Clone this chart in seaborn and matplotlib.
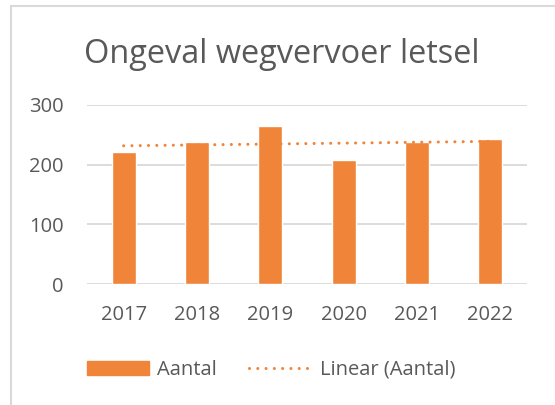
import numpy as np
import pandas as pd
import matplotlib
matplotlib.use("Agg")
import matplotlib.pyplot as plt
import seaborn as sns
from matplotlib.lines import Line2D

# chart data
years = ["2017", "2018", "2019", "2020", "2021", "2022"]
aantal = [221, 238, 265, 207, 238, 243]
y_ticks = [0, 100, 200, 300]

title = "Ongeval wegvervoer letsel"
orange = "#F08439"
grey_text = "#595959"
grid_col = "#D9D9D9"

sns.set_style("white")
plt.rcParams["font.family"] = ["Open Sans", "DejaVu Sans"]

df = pd.DataFrame({"Jaar": years, "Aantal": aantal})

fig = plt.figure(figsize=(5.55, 4.05), dpi=100)
ax = fig.add_axes([87 / 555, 1 - 284 / 405, 440 / 555, 179 / 405])

sns.barplot(data=df, x="Jaar", y="Aantal", color=orange, saturation=1,
            width=0.33, ax=ax, zorder=3)

# linear trendline over category positions
xs = np.arange(len(years))
slope, icpt = np.polyfit(xs, aantal, 1)
dots = (0, (0.01, 2.7))
ax.plot(xs, slope * xs + icpt, color=orange, lw=2.2, linestyle=dots,
        dash_capstyle="round", zorder=4)

ax.set_ylim(0, 300)
ax.set_xlim(-0.5, len(years) - 0.5)
ax.set_yticks(y_ticks)
ax.yaxis.grid(True, color=grid_col, lw=1.3)
ax.set_axisbelow(True)
for s in ax.spines.values():
    s.set_visible(False)
ax.set_xlabel("")
ax.set_ylabel("")
ax.tick_params(axis="both", length=0, labelsize=14.5, labelcolor=grey_text)
ax.tick_params(axis="y", pad=17)
ax.tick_params(axis="x", pad=15)

fig.text(282 / 555, 1 - 63 / 405, title, ha="center", va="baseline",
         fontsize=23.4, color=grey_text)

# legend
handles = [
    plt.Rectangle((0, 0), 1, 1, color=orange),
    Line2D([0], [0], color=orange, lw=2.2, linestyle=dots, dash_capstyle="round"),
]
fig.legend(handles, ["Aantal", "Linear (Aantal)"], loc="center",
           bbox_to_anchor=(271 / 555, 1 - 370 / 405), ncol=2, frameon=False,
           fontsize=14.5, labelcolor=grey_text, handlelength=3.1,
           handleheight=0.7, columnspacing=1.6, handletextpad=0.4)

# chart border (only left and top visible in crop)
fig.add_artist(Line2D([11 / 555, 11 / 555], [0, 1 - 6 / 405], color=grid_col, lw=1.5))
fig.add_artist(Line2D([11 / 555, 1], [1 - 6 / 405, 1 - 6 / 405], color=grid_col, lw=1.5))

fig.savefig("out.png", dpi=100)
